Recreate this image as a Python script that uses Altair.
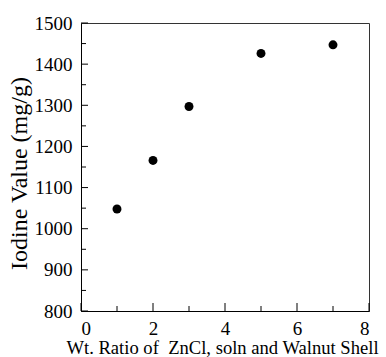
import altair as alt
import pandas as pd

ratio = [1, 2, 3, 5, 7]
iodine = [1048, 1166, 1297, 1426, 1447]

x_major = [0, 2, 4, 6, 8]
x_minor = [1, 3, 5, 7]
y_major = [800, 900, 1000, 1100, 1200, 1300, 1400, 1500]
y_minor = [850, 950, 1050, 1150, 1250, 1350, 1450]

W, H = 288, 288
FONT = "Liberation Serif"

df = pd.DataFrame({"ratio": ratio, "iodine": iodine})

xs = alt.Scale(domain=[0, 8], nice=False)
ys = alt.Scale(domain=[800, 1500], nice=False)

points = alt.Chart(df).mark_circle(size=80, color="black", opacity=1).encode(
    x=alt.X("ratio:Q", scale=xs,
            axis=alt.Axis(values=x_major, format="d",
                          title="Wt. Ratio of\u00a0 ZnCl, soln and Walnut Shell",
                          titleFontSize=18.6, titleX=141,
                          tickSize=0, labelPadding=8, titlePadding=0, grid=False)),
    y=alt.Y("iodine:Q", scale=ys,
            axis=alt.Axis(values=y_major, format="d", title="Iodine Value (mg/g)",
                          titleFontSize=24, titleY=150,
                          tickSize=0, labelPadding=9, titlePadding=3, grid=False)),
)

def yticks(vals, length):
    return alt.Chart(pd.DataFrame({"v": vals})).mark_rule(color="black", strokeWidth=1).encode(
        y=alt.Y("v:Q", scale=ys), x=alt.value(0), x2=alt.value(length))

def xticks(vals, length):
    return alt.Chart(pd.DataFrame({"v": vals})).mark_rule(color="black", strokeWidth=1).encode(
        x=alt.X("v:Q", scale=xs), y=alt.value(H), y2=alt.value(H - length))

chart = alt.layer(
    points,
    yticks(y_major, 7), yticks(y_minor, 5),
    xticks(x_major, 8), xticks(x_minor, 5),
).properties(
    width=W, height=H,
    autosize=alt.AutoSizeParams(type="none"),
    padding={"left": 81, "top": 23, "right": 17, "bottom": 46},
).configure_view(
    stroke="#333", strokeWidth=1
).configure_axis(
    labelFont=FONT, titleFont=FONT, labelFontSize=19,
    titleFontWeight="normal", labelColor="black", titleColor="black",
    domainColor="black", domainWidth=1,
)

chart.save("out.html", embed_options={"renderer": "svg", "actions": False})
